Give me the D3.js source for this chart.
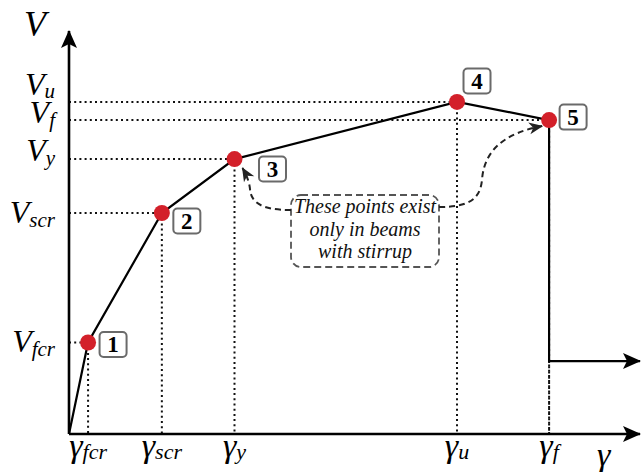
<!DOCTYPE html>
<html>
<head>
<meta charset="utf-8">
<script src="https://cdn.jsdelivr.net/npm/d3@7/dist/d3.min.js"></script>
<style>
  html, body { margin: 0; padding: 0; background: #fff; }
  svg { display: block; }
  .math { font-family: "Liberation Serif", "Times New Roman", Tinos, "DejaVu Serif", serif; font-style: italic; }
  .badge { font-family: "Liberation Serif", "Times New Roman", Tinos, "DejaVu Serif", serif; font-weight: bold; }
</style>
</head>
<body>
<svg id="chart" width="641" height="472"></svg>
<script>
// Characteristic points of the shear force – shear strain backbone curve
const pointIds = ["1", "2", "3", "4", "5"];
const strainValues = [1.0, 4.87, 8.68, 20.35, 25.18];      // γ
const shearValues = [4.53, 10.94, 13.61, 16.44, 15.54];    // V
const strainSubscripts = ["fcr", "scr", "y", "u", "f"];
const shearSubscripts = ["fcr", "scr", "y", "u", "f"];
const residualShear = 3.61;
const strainMax = 30;
const shearMax = 20;
const noteLines = ["These points exist", "only in beams", "with stirrup"];

const svg = d3.select("#chart");

const x = d3.scaleLinear().domain([0, strainMax]).range([69, 641]);
const y = d3.scaleLinear().domain([0, shearMax]).range([434, 30]);

const defs = svg.append("defs");
// stealth-style arrowhead for the axes
defs.append("marker")
  .attr("id", "axisHead").attr("markerUnits", "userSpaceOnUse")
  .attr("viewBox", "-18 -9 20 18").attr("refX", 0).attr("refY", 0)
  .attr("markerWidth", 20).attr("markerHeight", 18).attr("orient", "auto")
  .append("path").attr("d", "M1,0 L-17,-8 L-13,0 L-17,8 Z").attr("fill", "#000");
// smaller head for the dashed note pointers
defs.append("marker")
  .attr("id", "noteHead").attr("markerUnits", "userSpaceOnUse")
  .attr("viewBox", "-14 -7 16 14").attr("refX", 0).attr("refY", 0)
  .attr("markerWidth", 16).attr("markerHeight", 14).attr("orient", "auto")
  .append("path").attr("d", "M1,0 L-13,-6 L-9,0 L-13,6 Z").attr("fill", "#222");

const pts = pointIds.map((id, i) => ({ id, g: strainValues[i], v: shearValues[i], gs: strainSubscripts[i], vs: shearSubscripts[i] }));

// dotted guide lines to both axes
const guides = svg.append("g").attr("stroke", "#111").attr("stroke-width", 2)
  .attr("stroke-dasharray", "2,3.2").attr("fill", "none");
pts.forEach(p => {
  guides.append("line").attr("x1", x(0)).attr("x2", x(p.g)).attr("y1", y(p.v)).attr("y2", y(p.v));
  guides.append("line").attr("x1", x(p.g)).attr("x2", x(p.g)).attr("y1", y(p.v)).attr("y2", y(0));
});
// continuation of the last drop below the residual branch
guides.append("line").attr("x1", x(strainValues[4])).attr("x2", x(strainValues[4]))
  .attr("y1", y(residualShear)).attr("y2", y(0));

// axes
svg.append("line").attr("x1", x(0)).attr("y1", y(0)).attr("x2", x(0)).attr("y2", y(shearMax) + 1)
  .attr("stroke", "#000").attr("stroke-width", 2.6).attr("marker-end", "url(#axisHead)");
svg.append("line").attr("x1", x(0)).attr("y1", y(0)).attr("x2", x(strainMax) - 1).attr("y2", y(0))
  .attr("stroke", "#000").attr("stroke-width", 2.6).attr("marker-end", "url(#axisHead)");

// backbone curve: origin → points 1..5 → sudden drop → residual plateau
const curve = [[0, 0], ...pts.map(p => [p.g, p.v]), [strainValues[4], residualShear]];
svg.append("path")
  .attr("d", d3.line().x(d => x(d[0])).y(d => y(d[1]))(curve) + "L" + (x(strainMax) - 1) + "," + y(residualShear))
  .attr("fill", "none").attr("stroke", "#000").attr("stroke-width", 2.2)
  .attr("stroke-linejoin", "miter").attr("marker-end", "url(#axisHead)");

// points
svg.append("g").selectAll("circle").data(pts).join("circle")
  .attr("cx", d => x(d.g)).attr("cy", d => y(d.v)).attr("r", 8).attr("fill", "#d3202a");

// numbered badges
const badgeShift = [[25, 2], [25, 8], [38, 10], [20, -21], [24, -3]];
const badges = svg.append("g").selectAll("g").data(pts).join("g")
  .attr("transform", (d, i) => `translate(${x(d.g) + badgeShift[i][0]},${y(d.v) + badgeShift[i][1]})`);
badges.append("rect").attr("x", -13.5).attr("y", -12.5).attr("width", 27).attr("height", 25).attr("rx", 4)
  .attr("fill", "#fff").attr("stroke", "#6a6a6a").attr("stroke-width", 2);
badges.append("text").attr("class", "badge").attr("text-anchor", "middle").attr("y", 8)
  .attr("font-size", 23).text(d => d.id);

// shear labels on the vertical axis
const vNudge = [10, 10, 2, -7, 3];
const vLabels = svg.append("g").selectAll("text").data(pts).join("text")
  .attr("class", "math").attr("text-anchor", "end")
  .attr("x", 55).attr("y", (d, i) => y(d.v) + vNudge[i]);
vLabels.append("tspan").attr("font-size", 32).text("V");
vLabels.append("tspan").attr("font-size", 21).attr("dy", d => d.vs === "u" ? 3 : 4).text(d => d.vs);

// strain labels on the horizontal axis
const gLabels = svg.append("g").selectAll("text").data(pts).join("text")
  .attr("class", "math").attr("text-anchor", "middle")
  .attr("x", d => x(d.g)).attr("y", 457);
gLabels.append("tspan").attr("font-size", 34).text("γ");
gLabels.append("tspan").attr("font-size", 22).attr("dy", 2).text(d => d.gs);

// axis titles
svg.append("text").attr("class", "math").attr("x", 24).attr("y", 36).attr("font-size", 36).text("V");
svg.append("text").attr("class", "math").attr("x", 597).attr("y", 466).attr("font-size", 34).text("γ");

// note box with dashed pointers to points 3 and 5
svg.append("rect").attr("x", 291).attr("y", 195).attr("width", 148).attr("height", 72).attr("rx", 10)
  .attr("fill", "#fff").attr("stroke", "#555").attr("stroke-width", 1.8).attr("stroke-dasharray", "7,4");
svg.append("g").selectAll("text").data(noteLines).join("text")
  .attr("class", "math").attr("text-anchor", "middle").attr("font-size", 20).attr("fill", "#111")
  .attr("x", 365).attr("y", (d, i) => 213 + i * 22.5).text(d => d);

const p3 = pts[2], p5 = pts[4];
svg.append("path")
  .attr("d", `M291,210 C262,210 251,203 250,189 Q249,179 ${x(p3.g) + 8},${y(p3.v) + 9}`)
  .attr("fill", "none").attr("stroke", "#222").attr("stroke-width", 2).attr("stroke-dasharray", "6,4")
  .attr("marker-end", "url(#noteHead)");
svg.append("path")
  .attr("d", `M439,207 C468,207 480,200 482,180 C484,150 505,133 ${x(p5.g) - 7},${y(p5.v) + 6}`)
  .attr("fill", "none").attr("stroke", "#222").attr("stroke-width", 2).attr("stroke-dasharray", "6,4")
  .attr("marker-end", "url(#noteHead)");
</script>
</body>
</html>
